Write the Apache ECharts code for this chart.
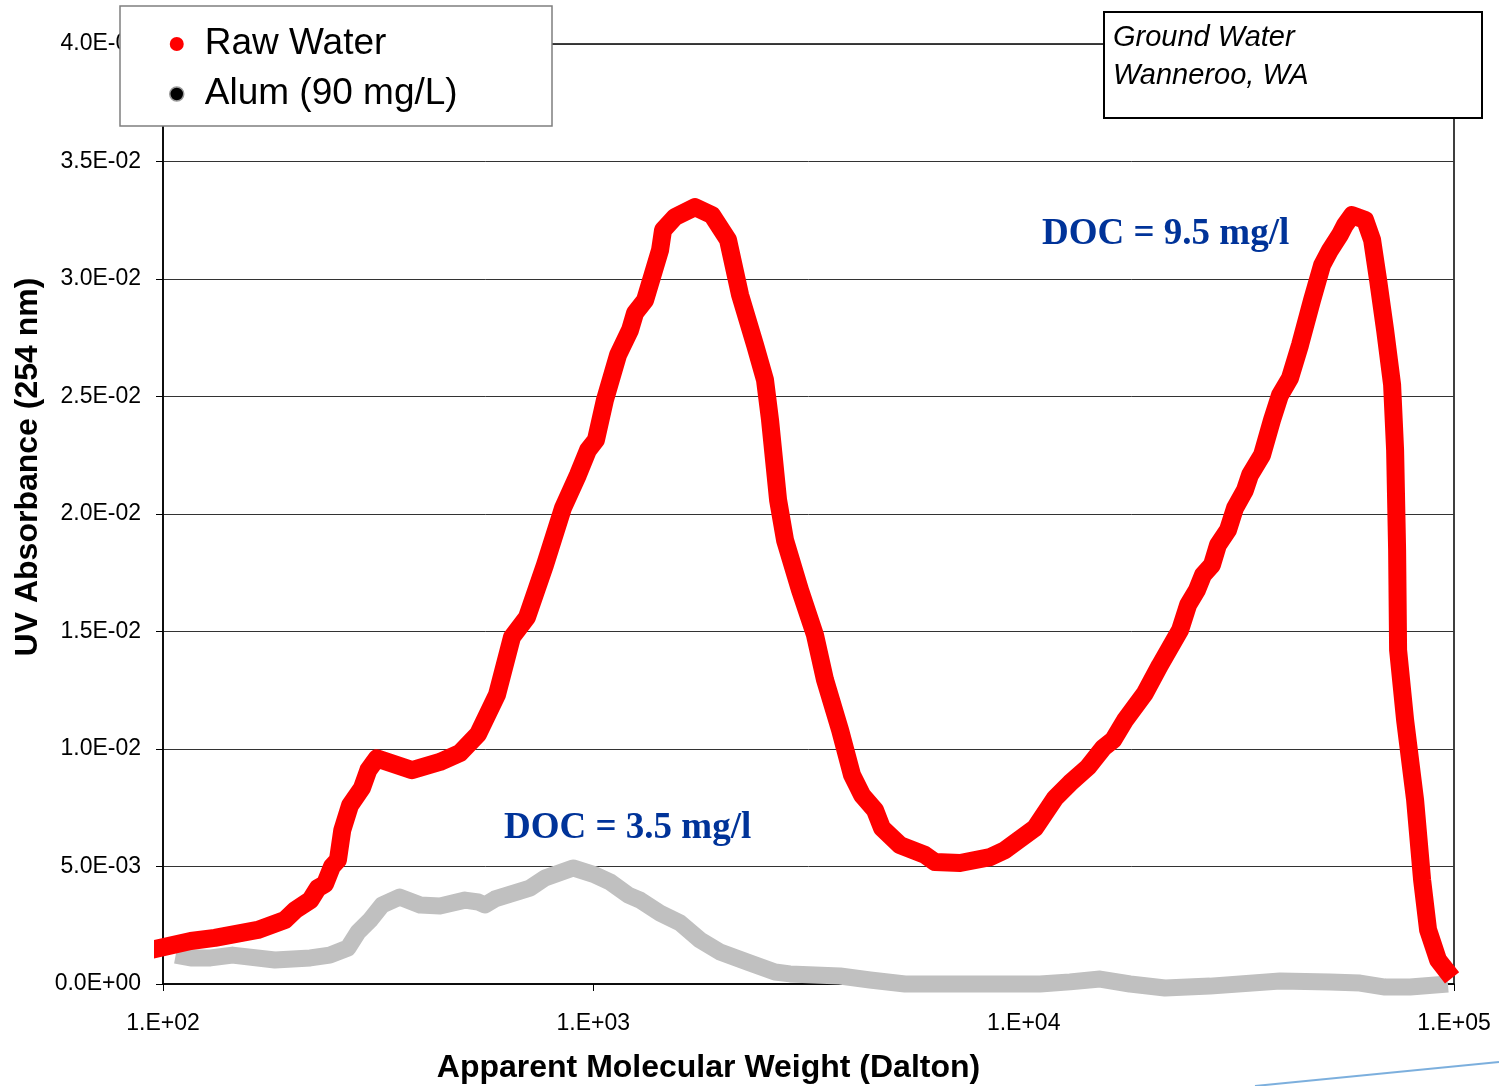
<!DOCTYPE html>
<html>
<head>
<meta charset="utf-8">
<title>UV Absorbance vs Apparent Molecular Weight</title>
<script src="https://cdn.jsdelivr.net/npm/echarts@6/dist/echarts.min.js"></script>
<style>
  html, body { margin: 0; padding: 0; background: #fff; }
  #chart { width: 1499px; height: 1086px; }
</style>
</head>
<body>
<div id="chart"></div>
<script>
// Raw water (red) - apparent MW (Dalton) and UV absorbance at 254 nm
const rawMW = [94, 116, 132, 166, 192, 203, 220, 229, 238, 247, 255, 261, 272, 290, 300, 314,
  379, 440, 490, 540, 597, 647, 701, 772, 850, 921, 972, 1014, 1064, 1141, 1217, 1250, 1319,
  1429, 1452, 1548, 1723, 1887, 2056, 2193, 2376, 2506, 2574, 2687, 2789, 3022, 3274, 3455,
  3744, 3992, 4211, 4514, 4686, 5160, 5900, 6223, 7114, 8355, 9050, 10626, 11829, 12818,
  14109, 15292, 16136, 17206, 19143, 20744, 23095, 24104, 25270, 26100, 27385, 28283, 29843,
  30979, 32684, 33572, 35805, 37768, 39424, 41595, 43868, 46790, 49366, 51527, 54346, 55827,
  57955, 62145, 64522, 66614, 69165, 71810, 72970, 73757, 74150, 76982, 81208, 84309, 87058,
  91835, 98970]
const rawAbs = [0.00145, 0.00183, 0.00196, 0.0023, 0.00272, 0.00315, 0.00357, 0.00408, 0.00426,
  0.0050, 0.00528, 0.00655, 0.0076, 0.00834, 0.0091, 0.0096, 0.0091, 0.00945, 0.00983, 0.01064,
  0.0123, 0.01476, 0.0156, 0.01783, 0.02025, 0.02166, 0.02272, 0.02315, 0.02485, 0.02676,
  0.02783, 0.02855, 0.0291, 0.03123, 0.03208, 0.03264, 0.03306, 0.03272, 0.03166, 0.02932,
  0.02719, 0.0257, 0.024, 0.0206, 0.01889, 0.01676, 0.01485, 0.01294, 0.01081, 0.00889,
  0.00804, 0.0074, 0.00664, 0.00591, 0.00549, 0.00519, 0.00515, 0.0054, 0.0057, 0.00664,
  0.00791, 0.00855, 0.00923, 0.01004, 0.01038, 0.01123, 0.01238, 0.01357, 0.01506, 0.01613,
  0.01676, 0.0174, 0.01783, 0.01868, 0.01932, 0.02025, 0.02102, 0.02166, 0.02251, 0.024,
  0.02506, 0.02579, 0.02719, 0.0291, 0.03059, 0.03123, 0.03189, 0.0323, 0.03272, 0.03251,
  0.03166, 0.02996, 0.02783, 0.02549, 0.02272, 0.01847, 0.01421, 0.01123, 0.00783, 0.00443,
  0.0023, 0.00102, 0.00026]

// Alum 90 mg/L (grey)
const alumMW = [107, 116, 129, 145, 182, 220, 244, 269, 284, 303, 323, 355, 396, 440, 503, 540,
  560, 591, 712, 772, 897, 1009, 1094, 1204, 1284, 1429, 1590, 1770, 1970, 2312, 2643, 2864,
  3744, 4395, 5302, 8810, 10914, 12818, 15048, 17666, 21306, 27101, 39424, 51527, 60475,
  69165, 79067, 96820]
const alumAbs = [0.00123, 0.00111, 0.00111, 0.00123, 0.00102, 0.00111, 0.00123, 0.00153, 0.00221,
  0.00272, 0.00336, 0.0037, 0.00336, 0.00332, 0.00357, 0.00349, 0.00336, 0.00362, 0.00408,
  0.00451, 0.00494, 0.00464, 0.00434, 0.00379, 0.00357, 0.00302, 0.0026, 0.00187, 0.00136,
  0.00089, 0.00051, 0.00043, 0.00034, 0.00017, 0, 0, 0, 0.00009, 0.00021, 0, -0.00017,
  -0.00009, 0.00013, 0.00009, 0.00004, -0.00013, -0.00013, 0]

const seriesNames = ['Raw Water', 'Alum (90 mg/L)']
const docLabels = ['DOC = 9.5 mg/l', 'DOC = 3.5 mg/l']
const siteLines = ['Ground Water', 'Wanneroo, WA']

const chart = echarts.init(document.getElementById('chart'))

// 3.5E-02 style labels like the spreadsheet
const sciLabel = (v) => {
  if (v === 0) return '0.0E+00'
  const exp = Math.floor(Math.log10(Math.abs(v)) + 1e-9)
  const mant = v / Math.pow(10, exp)
  const sign = exp < 0 ? '-' : '+'
  return mant.toFixed(1) + 'E' + sign + String(Math.abs(exp)).padStart(2, '0')
}

const pairs = (xs, ys) => xs.map((x, i) => [x, ys[i]])

const option = {
  animation: false,
  backgroundColor: '#fff',
  textStyle: { fontFamily: 'Liberation Sans, Arial, sans-serif' },
  grid: {
    left: 163,
    right: 45,
    top: 44,
    bottom: 102,
    containLabel: false,
    outerBoundsMode: 'none',
    show: true,
    borderColor: '#000',
    borderWidth: 1.5
  },
  legend: {
    data: [
      { name: seriesNames[0], icon: 'circle', itemStyle: { color: '#ff0000' } },
      { name: seriesNames[1], icon: 'circle', itemStyle: { color: '#000', borderColor: '#9a9a9a', borderWidth: 1.5 } }
    ],
    orient: 'vertical',
    left: 169,
    top: 24,
    padding: 0,
    itemGap: 10,
    itemWidth: 46,
    itemHeight: 14,
    z: 20,
    selectedMode: false,
    textStyle: { fontSize: 37, color: '#000', lineHeight: 40 }
  },
  xAxis: {
    type: 'log',
    logBase: 10,
    min: 100,
    max: 100000,
    name: 'Apparent Molecular Weight (Dalton)',
    nameLocation: 'middle',
    nameGap: 68,
    nameTextStyle: { fontSize: 32, fontWeight: 'bold', color: '#000', padding: [0, 200, 0, 0] },
    axisLine: { lineStyle: { color: '#000', width: 1.5 } },
    axisTick: { show: true, length: 7, inside: false, lineStyle: { color: '#000' } },
    minorTick: { show: false },
    axisLabel: {
      fontSize: 23,
      color: '#000',
      margin: 28,
      formatter: (v) => '1.E+' + String(Math.round(Math.log10(v))).padStart(2, '0')
    },
    splitLine: { show: false }
  },
  yAxis: {
    type: 'value',
    min: 0,
    max: 0.04,
    interval: 0.005,
    name: 'UV Absorbance (254 nm)',
    nameLocation: 'middle',
    nameGap: 116,
    nameRotate: 90,
    nameTextStyle: { fontSize: 32, fontWeight: 'bold', color: '#000', padding: [0, 0, 0, 94] },
    axisLine: { show: true, lineStyle: { color: '#000', width: 1.5 } },
    axisTick: { show: true, length: 7, lineStyle: { color: '#000' } },
    axisLabel: { fontSize: 23, color: '#000', margin: 22, formatter: sciLabel },
    splitLine: { show: true, lineStyle: { color: '#333', width: 1 } }
  },
  graphic: [
    // legend frame
    {
      type: 'rect', z: 10,
      shape: { x: 120, y: 6, width: 432, height: 120 },
      style: { fill: '#fff', stroke: '#7f7f7f', lineWidth: 1.5 }
    },
    // site text box
    {
      type: 'rect', z: 10,
      shape: { x: 1104, y: 12, width: 378, height: 106 },
      style: { fill: '#fff', stroke: '#000', lineWidth: 2 }
    },
    {
      type: 'text', z: 11, left: 1113, top: 19,
      style: { text: siteLines.join('\n'), fontSize: 29, fontStyle: 'italic', lineHeight: 38, fill: '#000', fontFamily: 'Liberation Sans, Arial, sans-serif' }
    },
    // DOC annotations
    {
      type: 'text', z: 11, left: 1042, top: 216,
      style: { text: docLabels[0], fontSize: 37, fontWeight: 'bold', fill: '#003399', fontFamily: 'Liberation Serif, Times New Roman, serif' }
    },
    {
      type: 'text', z: 11, left: 504, top: 810,
      style: { text: docLabels[1], fontSize: 37, fontWeight: 'bold', fill: '#003399', fontFamily: 'Liberation Serif, Times New Roman, serif' }
    },
    // stray slide line at bottom right
    {
      type: 'line', z: 1,
      shape: { x1: 1255, y1: 1086, x2: 1499, y2: 1062 },
      style: { stroke: '#5b9bd5', lineWidth: 2, opacity: 0.8 }
    }
  ],
  series: [
    {
      name: seriesNames[1],
      type: 'line',
      data: pairs(alumMW, alumAbs),
      symbol: 'none',
      clip: false,
      z: 3,
      lineStyle: { color: '#c0c0c0', width: 17, join: 'round', cap: 'butt' },
      itemStyle: { color: '#c0c0c0' }
    },
    {
      name: seriesNames[0],
      type: 'line',
      data: pairs(rawMW, rawAbs),
      symbol: 'none',
      clip: false,
      z: 4,
      lineStyle: { color: '#ff0000', width: 18, join: 'round', cap: 'butt' },
      itemStyle: { color: '#ff0000' }
    }
  ]
}

chart.setOption(option)
window.addEventListener('resize', () => chart.resize())
</script>
</body>
</html>
